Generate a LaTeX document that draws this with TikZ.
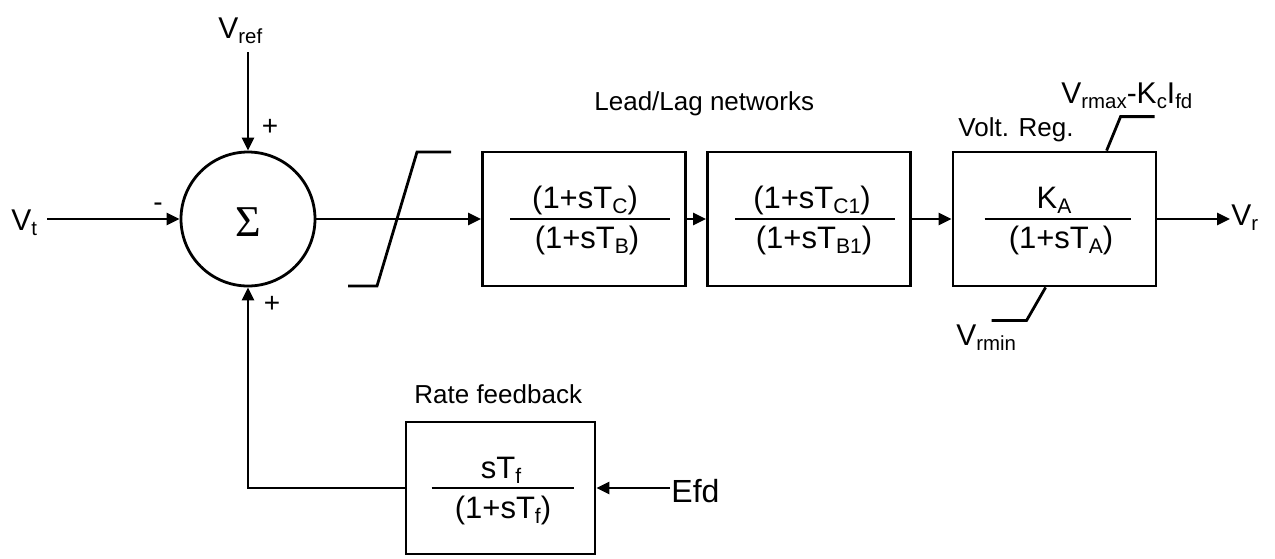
\documentclass[tikz,border=0pt]{standalone}
\usepackage{fontspec}
\setmainfont{Liberation Sans}
\newfontfamily\sigmafont{Liberation Serif}
\usepackage{graphicx}
\usetikzlibrary{arrows.meta}
% lowered, smaller text for subscripts in the current font
\newcommand\lo[1]{\raisebox{-0.17em}{\scalebox{0.68}{#1}}}

\begin{document}
\begin{tikzpicture}[x=1pt, y=-1pt, line width=2.8pt,
  lbl/.style={font=\fontsize{30}{36}\selectfont, inner sep=0pt, anchor=base west},
  caption/.style={font=\fontsize{26}{31}\selectfont, inner sep=0pt, anchor=base west},
  sign/.style={font=\fontsize{28}{34}\selectfont, inner sep=0pt},
  frac/.style={font=\fontsize{31}{37}\selectfont, inner sep=0pt, anchor=base},
  blk/.style={draw, rectangle, inner sep=0pt, minimum width=203pt, minimum height=134pt},
  arr/.style={-{Triangle[length=13pt,width=12pt]}}]

  \useasboundingbox (0,0) rectangle (1275,558);

  % summing junction
  \node[draw, circle, inner sep=0pt, minimum size=134pt] (sum) at (248,219) {};
  \node[font=\sigmafont\fontsize{44}{50}\selectfont, inner sep=0pt] (sigma) at (248,222) {Σ};

  % inputs to the junction
  \node[lbl] (vt) at (10,230) {V\lo{t}};
  \node[lbl] (vref) at (217,38) {V\lo{ref}};
  \coordinate (vtin) at (47,219);
  \coordinate (refin) at (248,52);
  \draw[arr] (vtin) -- (sum.west);
  \draw[arr] (refin) -- (sum.north);
  \node[sign] (plustop) at (270,127) {+};
  \node[sign] (minus) at (158,207) {-};
  \node[sign] (plusbot) at (272,304) {+};

  % blocks
  \node[blk] (b1) at (584,219) {};
  \node[blk] (b2) at (809,219) {};
  \node[blk] (b3) at (1054.5,219) {};
  \node[blk, minimum width=189pt, minimum height=132pt] (fb) at (500.5,488) {};

  % limiter symbol on the error signal
  \draw (348,286) -- (377,286) -- (417,152) -- (451,152);

  % forward path
  \draw[arr] (sum.east) -- (b1.west);
  \draw[arr] (b1.east) -- (b2.west);
  \draw[arr] (b2.east) -- (b3.west);
  \node[lbl] (vr) at (1230,225) {V\lo{r}};
  \draw[arr] (b3.east) -- (b3.east -| vr.west);

  % transfer functions
  \node[frac] (n1) at (585,208) {(1+sT\lo{C})};
  \node[frac] (d1) at (587,248) {(1+sT\lo{B})};
  \draw ([xshift=29pt]b1.west) -- ([xshift=-17pt]b1.east);

  \node[frac] (n2) at (812,208) {(1+sT\lo{C1})};
  \node[frac] (d2) at (814,248) {(1+sT\lo{B1})};
  \draw ([xshift=29pt]b2.west) -- ([xshift=-17pt]b2.east);

  \node[frac] (n3) at (1054,208) {K\lo{A}};
  \node[frac] (d3) at (1061,248) {(1+sT\lo{A})};
  \draw ([xshift=33pt]b3.west) -- ([xshift=-26pt]b3.east);

  \node[frac] (n4) at (501,478) {sT\lo{f}};
  \node[frac] (d4) at (503,518) {(1+sT\lo{f})};
  \draw ([xshift=27pt]fb.west) -- ([xshift=-22pt]fb.east);

  % block captions
  \node[caption] (leadlag) at (593,110) {Lead/Lag networks};
  \node[caption] (voltreg) at (957,136) {Volt. Reg.};
  \node[caption] (rate) at (413,403) {Rate feedback};

  % regulator output limits
  \draw ([xshift=155pt]b3.north west) -- ++(14,-34) -- ++(34,0);
  \draw ([xshift=94pt]b3.south west) -- ++(-19,33) -- ++(-35,0);
  \node[lbl] (vrmax) at (1060,103) {V\lo{rmax}-K\lo{c}I\lo{fd}};
  \node[lbl] (vrmin) at (955,345) {V\lo{rmin}};

  % rate feedback loop
  \node[lbl, font=\fontsize{32}{38}\selectfont] (efd) at (670,502) {Efd};
  \draw[arr] (efd.west |- fb.east) -- (fb.east);
  \draw[arr] (fb.west) -| (sum.south);
\end{tikzpicture}
\end{document}
